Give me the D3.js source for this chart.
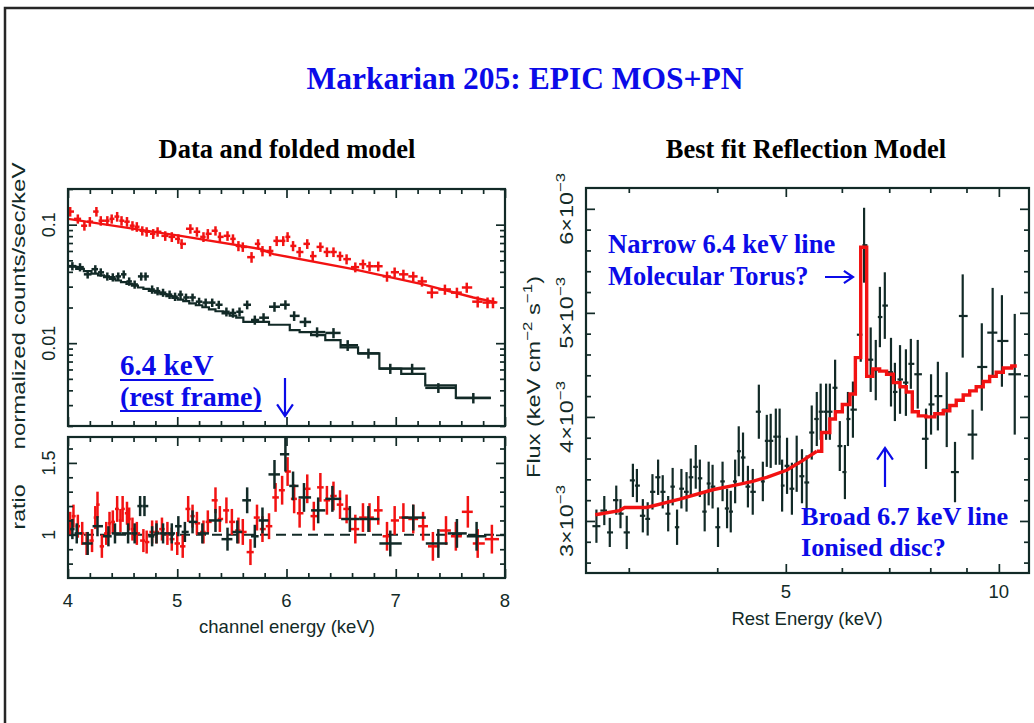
<!DOCTYPE html>
<html>
<head>
<meta charset="utf-8">
<script src="https://cdn.jsdelivr.net/npm/d3@7/dist/d3.min.js"></script>
<style>
  html, body { margin: 0; padding: 0; background: #fff; }
  svg { display: block; }
</style>
</head>
<body>
<svg id="fig" width="1034" height="723"></svg>
<script>
// ---------------------------------------------------------------
// Markarian 205 — XMM-Newton EPIC spectra around the Fe K band
// ---------------------------------------------------------------

// Left panel, upper: MOS counts spectrum (black), with folded model per channel bin
const mosEnergy = [4.04, 4.11, 4.18, 4.25, 4.30, 4.36, 4.41, 4.46, 4.51, 4.56,
                   4.61, 4.67, 4.71, 4.77, 4.82, 4.87, 4.93, 4.98, 5.03, 5.08,
                   5.14, 5.20, 5.26, 5.32, 5.38, 5.45, 5.51, 5.57, 5.64, 5.71,
                   5.79, 5.89, 5.99, 6.07, 6.17, 6.28, 6.43, 6.56, 6.75, 6.95,
                   7.15, 7.39, 7.71];
const mosCounts = [0.0447, 0.0438, 0.0381, 0.0421, 0.0396, 0.0366, 0.0360, 0.0366, 0.0381, 0.0332,
                   0.0313, 0.0366, 0.0366, 0.0284, 0.0275, 0.0267, 0.0257, 0.0247, 0.0257, 0.0243,
                   0.0243, 0.0224, 0.0220, 0.0220, 0.0211, 0.0184, 0.0180, 0.0184, 0.0211, 0.0157,
                   0.0164, 0.0203, 0.0211, 0.0170, 0.0151, 0.0124, 0.0122, 0.0096, 0.0082, 0.0061,
                   0.0061, 0.0042, 0.00345];
const mosCountsErr = [0.0036, 0.0035, 0.0030, 0.0034, 0.0032, 0.0029, 0.0029, 0.0029, 0.0030, 0.0027,
                      0.0025, 0.0029, 0.0029, 0.0023, 0.0022, 0.0021, 0.0021, 0.0020, 0.0021, 0.0019,
                      0.0019, 0.0018, 0.0018, 0.0018, 0.0017, 0.0016, 0.0016, 0.0016, 0.0018, 0.0014,
                      0.0015, 0.0019, 0.0019, 0.0016, 0.0014, 0.0012, 0.0012, 0.0010, 0.0008, 0.0006,
                      0.0006, 0.0004, 0.00035];
const mosModel = [0.0443, 0.0424, 0.0405, 0.0387, 0.0374, 0.0360, 0.0349, 0.0338, 0.0327, 0.0316,
                  0.0306, 0.0295, 0.0287, 0.0276, 0.0267, 0.0259, 0.0249, 0.0241, 0.0233, 0.0226,
                  0.0217, 0.0209, 0.0201, 0.0193, 0.0186, 0.0178, 0.0171, 0.0164, 0.0151, 0.0151,
                  0.0151, 0.0143, 0.0143, 0.0129, 0.0124, 0.0117, 0.0106, 0.0092, 0.0082, 0.0061,
                  0.0055, 0.0044, 0.00345];

// Left panel, upper: PN counts spectrum (red) and its folded model curve
const pnEnergy = [4.02, 4.09, 4.15, 4.20, 4.26, 4.30, 4.36, 4.40, 4.45, 4.49,
                  4.54, 4.59, 4.63, 4.68, 4.72, 4.78, 4.82, 4.89, 4.95, 5.01,
                  5.04, 5.12, 5.18, 5.24, 5.28, 5.35, 5.39, 5.46, 5.51, 5.56,
                  5.60, 5.68, 5.74, 5.78, 5.85, 5.91, 5.97, 6.01, 6.06, 6.12,
                  6.19, 6.24, 6.31, 6.37, 6.43, 6.49, 6.55, 6.63, 6.70, 6.76,
                  6.84, 6.92, 6.99, 7.07, 7.16, 7.24, 7.33, 7.45, 7.56, 7.65,
                  7.75, 7.84, 7.89];
const pnCounts = [0.129, 0.112, 0.098, 0.106, 0.129, 0.108, 0.108, 0.112, 0.117, 0.108,
                  0.106, 0.098, 0.096, 0.0889, 0.0871, 0.0838, 0.0871, 0.0805, 0.0789, 0.0759,
                  0.0689, 0.0924, 0.0871, 0.0789, 0.0838, 0.0889, 0.0789, 0.0805, 0.0759, 0.0662,
                  0.0649, 0.0532, 0.0689, 0.0600, 0.0600, 0.0730, 0.0730, 0.0789, 0.0662, 0.0588,
                  0.0689, 0.0543, 0.0649, 0.0588, 0.0588, 0.0543, 0.0512, 0.0438, 0.0464, 0.0446,
                  0.0446, 0.0366, 0.0397, 0.0381, 0.0366, 0.0332, 0.0267, 0.0284, 0.0267, 0.0295,
                  0.0224, 0.0220, 0.0220];
const pnCountsErr = [0.012, 0.010, 0.009, 0.010, 0.012, 0.010, 0.010, 0.010, 0.011, 0.010,
                     0.010, 0.009, 0.009, 0.008, 0.008, 0.008, 0.008, 0.0075, 0.0075, 0.007,
                     0.0065, 0.0085, 0.008, 0.0075, 0.008, 0.008, 0.0075, 0.0075, 0.007, 0.0065,
                     0.006, 0.0055, 0.0065, 0.006, 0.006, 0.007, 0.007, 0.0075, 0.0065, 0.006,
                     0.0065, 0.0055, 0.006, 0.0055, 0.0055, 0.005, 0.005, 0.0042, 0.0044, 0.0042,
                     0.0042, 0.0036, 0.0038, 0.0036, 0.0035, 0.0032, 0.0028, 0.0028, 0.0027, 0.0029,
                     0.0024, 0.0023, 0.0023];
const pnModelEnergy = [4.00, 4.29, 5.03, 5.76, 5.88, 6.61, 7.25, 7.71, 7.93];
const pnModel       = [0.112, 0.102, 0.0805, 0.0623, 0.0565, 0.0421, 0.0313, 0.0243, 0.0220];

// Left panel, lower: data / model ratios
const pnRatioEnergy = [4.02, 4.05, 4.09, 4.13, 4.17, 4.22, 4.25, 4.27, 4.31, 4.35,
                       4.38, 4.41, 4.45, 4.48, 4.50, 4.54, 4.56, 4.59, 4.63, 4.69,
                       4.72, 4.77, 4.81, 4.86, 4.91, 4.95, 5.00, 5.05, 5.10, 5.14,
                       5.18, 5.24, 5.28, 5.35, 5.39, 5.45, 5.50, 5.56, 5.60, 5.67,
                       5.73, 5.78, 5.84, 5.90, 5.96, 6.01, 6.07, 6.12, 6.19, 6.25,
                       6.31, 6.37, 6.43, 6.49, 6.55, 6.63, 6.70, 6.76, 6.84, 6.92,
                       6.99, 7.07, 7.16, 7.25, 7.34, 7.46, 7.55, 7.66, 7.75, 7.88];
const pnRatio = [1.08, 1.13, 1.06, 1.01, 0.94, 0.96, 1.12, 1.21, 0.92, 1.01,
                 1.08, 1.09, 1.18, 1.10, 1.18, 1.15, 1.11, 1.04, 1.01, 0.96,
                 0.95, 1.02, 1.02, 1.04, 1.01, 0.97, 0.94, 0.92, 1.18, 1.13,
                 1.08, 1.02, 1.09, 1.24, 1.11, 1.17, 1.09, 1.03, 1.02, 0.88,
                 1.12, 1.04, 1.06, 1.26, 1.31, 1.44, 1.25, 1.15, 1.32, 1.13,
                 1.33, 1.24, 1.27, 1.21, 1.18, 1.04, 1.12, 1.12, 1.17, 0.99,
                 1.10, 1.12, 1.11, 1.06, 0.92, 1.03, 0.99, 1.16, 0.94, 0.97];
const pnRatioErr = [0.08, 0.08, 0.08, 0.08, 0.08, 0.08, 0.08, 0.09, 0.08, 0.08,
                    0.08, 0.08, 0.09, 0.08, 0.09, 0.08, 0.08, 0.08, 0.08, 0.08,
                    0.08, 0.08, 0.08, 0.08, 0.08, 0.08, 0.08, 0.08, 0.09, 0.08,
                    0.08, 0.08, 0.08, 0.09, 0.09, 0.09, 0.09, 0.09, 0.09, 0.09,
                    0.09, 0.09, 0.09, 0.10, 0.10, 0.10, 0.10, 0.10, 0.10, 0.10,
                    0.10, 0.10, 0.10, 0.10, 0.10, 0.10, 0.10, 0.10, 0.10, 0.10,
                    0.10, 0.10, 0.10, 0.10, 0.10, 0.10, 0.10, 0.11, 0.10, 0.10];
const mosRatioEnergy = [4.04, 4.08, 4.18, 4.27, 4.37, 4.43, 4.55, 4.61, 4.66, 4.70,
                        4.77, 4.81, 4.87, 4.95, 5.01, 5.07, 5.14, 5.23, 5.35, 5.46,
                        5.55, 5.64, 5.71, 5.78, 5.89, 5.99, 6.06, 6.16, 6.29, 6.42,
                        6.58, 6.75, 6.95, 7.16, 7.39, 7.56, 7.74];
const mosRatio = [1.04, 1.01, 0.94, 1.06, 0.99, 1.01, 1.01, 1.01, 1.20, 1.20,
                  0.99, 1.01, 1.01, 1.01, 1.06, 1.02, 1.09, 1.01, 1.10, 0.97,
                  1.02, 1.24, 0.99, 1.10, 1.42, 1.56, 1.34, 1.26, 1.17, 1.25,
                  1.11, 1.11, 0.94, 1.12, 0.94, 1.01, 0.99];
const mosRatioErr = [0.07, 0.07, 0.08, 0.07, 0.07, 0.07, 0.07, 0.07, 0.07, 0.07,
                     0.07, 0.07, 0.07, 0.07, 0.07, 0.07, 0.08, 0.07, 0.08, 0.08,
                     0.08, 0.09, 0.08, 0.09, 0.10, 0.12, 0.10, 0.10, 0.09, 0.09,
                     0.09, 0.09, 0.09, 0.09, 0.10, 0.10, 0.10];

// Right panel: unfolded rest-frame spectrum and best-fit reflection model
const restEnergy = [2.70, 2.77, 2.82, 2.88, 2.92, 2.98, 3.04, 3.08, 3.14, 3.19,
                    3.24, 3.30, 3.35, 3.41, 3.46, 3.51, 3.56, 3.62, 3.67, 3.73,
                    3.78, 3.84, 3.89, 3.94, 4.01, 4.07, 4.13, 4.18, 4.24, 4.29,
                    4.35, 4.42, 4.49, 4.58, 4.64, 4.70, 4.76, 4.84, 4.90, 4.94,
                    5.02, 5.10, 5.18, 5.27, 5.35, 5.44, 5.53, 5.60, 5.70, 5.77,
                    5.87, 5.96, 6.06, 6.12, 6.22, 6.38, 6.45, 6.59, 6.70, 6.79,
                    6.90, 7.04, 7.13, 7.25, 7.39, 7.51, 7.68, 7.89, 8.02, 8.20,
                    8.44, 8.67, 8.89, 9.18, 9.46, 9.80, 10.10, 10.53];
const flux = [2.95e-3, 3.10e-3, 2.89e-3, 3.20e-3, 3.07e-3, 2.89e-3, 3.39e-3, 3.34e-3, 3.05e-3, 3.02e-3,
              3.28e-3, 3.42e-3, 3.28e-3, 3.07e-3, 3.33e-3, 2.94e-3, 3.31e-3, 3.28e-3, 3.42e-3, 3.52e-3,
              3.41e-3, 3.09e-3, 3.36e-3, 3.33e-3, 2.94e-3, 3.38e-3, 3.12e-3, 3.09e-3, 3.38e-3, 3.67e-3,
              3.61e-3, 3.33e-3, 3.28e-3, 4.05e-3, 3.38e-3, 3.77e-3, 3.77e-3, 3.81e-3, 3.81e-3, 3.34e-3,
              3.53e-3, 3.31e-3, 3.55e-3, 3.43e-3, 3.37e-3, 3.85e-3, 3.98e-3, 4.05e-3, 4.05e-3, 4.05e-3,
              4.28e-3, 3.72e-3, 3.47e-3, 3.98e-3, 4.07e-3, 4.79e-3, 5.65e-3, 4.55e-3, 4.45e-3, 4.96e-3,
              5.07e-3, 4.43e-3, 4.24e-3, 4.36e-3, 4.33e-3, 4.51e-3, 4.41e-3, 3.79e-3, 4.12e-3, 4.20e-3,
              4.07e-3, 3.47e-3, 4.97e-3, 3.83e-3, 4.48e-3, 4.81e-3, 4.73e-3, 4.41e-3];
const fluxErr = [0.16e-3, 0.14e-3, 0.14e-3, 0.14e-3, 0.14e-3, 0.16e-3, 0.16e-3, 0.16e-3, 0.16e-3, 0.16e-3,
                 0.17e-3, 0.17e-3, 0.16e-3, 0.17e-3, 0.18e-3, 0.17e-3, 0.19e-3, 0.19e-3, 0.18e-3, 0.21e-3,
                 0.18e-3, 0.19e-3, 0.21e-3, 0.21e-3, 0.19e-3, 0.19e-3, 0.19e-3, 0.20e-3, 0.21e-3, 0.24e-3,
                 0.24e-3, 0.20e-3, 0.22e-3, 0.26e-3, 0.19e-3, 0.25e-3, 0.26e-3, 0.27e-3, 0.27e-3, 0.25e-3,
                 0.27e-3, 0.25e-3, 0.27e-3, 0.26e-3, 0.26e-3, 0.26e-3, 0.26e-3, 0.27e-3, 0.27e-3, 0.27e-3,
                 0.27e-3, 0.24e-3, 0.26e-3, 0.26e-3, 0.27e-3, 0.26e-3, 0.36e-3, 0.31e-3, 0.29e-3, 0.29e-3,
                 0.32e-3, 0.33e-3, 0.28e-3, 0.33e-3, 0.32e-3, 0.24e-3, 0.33e-3, 0.29e-3, 0.29e-3, 0.33e-3,
                 0.36e-3, 0.29e-3, 0.40e-3, 0.24e-3, 0.42e-3, 0.43e-3, 0.44e-3, 0.58e-3];
const modelEnergy = [2.69, 2.91, 2.96, 3.18, 3.54, 3.94, 4.21, 4.49, 4.70, 5.02,
                     5.28, 5.53, 5.71, 5.83, 5.92, 6.10, 6.22, 6.32, 6.44, 6.57,
                     6.70, 6.87, 7.01, 7.18, 7.32, 7.48, 7.61, 7.78, 7.99, 8.25,
                     8.44, 8.61, 8.80, 9.01, 9.18, 9.40, 9.61, 9.80, 10.03, 10.26,
                     10.60];
const modelFlux = [3.06e-3, 3.10e-3, 3.13e-3, 3.13e-3, 3.21e-3, 3.30e-3, 3.34e-3, 3.38e-3, 3.42e-3, 3.49e-3,
                   3.58e-3, 3.67e-3, 3.85e-3, 3.98e-3, 4.05e-3, 4.12e-3, 4.22e-3, 4.57e-3, 5.63e-3, 4.39e-3,
                   4.46e-3, 4.44e-3, 4.41e-3, 4.33e-3, 4.29e-3, 4.24e-3, 4.05e-3, 4.01e-3, 4.00e-3, 4.03e-3,
                   4.06e-3, 4.11e-3, 4.16e-3, 4.21e-3, 4.25e-3, 4.29e-3, 4.34e-3, 4.39e-3, 4.43e-3, 4.47e-3,
                   4.49e-3];

// Tick values and labels
const channelTicks = [4, 5, 6, 7, 8];
const countTicks = [0.01, 0.1];
const countTickLabels = ["0.01", "0.1"];
const ratioTicks = [1, 1.5];
const ratioTickLabels = ["1", "1.5"];
const restTicks = [5, 10];
const fluxTicks = [3e-3, 4e-3, 5e-3, 6e-3];
const fluxTickMantissa = ["3", "4", "5", "6"];

// ---------------------------------------------------------------
const AX = "#122a27";
const RED = "#f21212";
const BLUE = "#0b0be8";
const SANS = "'Liberation Sans', Arial, Helvetica, sans-serif";
const SERIF = "'Liberation Serif', 'Times New Roman', Times, serif";

const svg = d3.select("#fig");

// slide border
svg.append("path")
  .attr("d", "M5,723 V8 H1034")
  .attr("fill", "none").attr("stroke", "#262626").attr("stroke-width", 2.5);

// headings
svg.append("text").attr("x", 525).attr("y", 89)
  .attr("text-anchor", "middle").attr("font-family", SERIF).attr("font-weight", "bold")
  .attr("font-size", 31.5).attr("fill", BLUE).text("Markarian 205: EPIC MOS+PN");
svg.append("text").attr("x", 287).attr("y", 158)
  .attr("text-anchor", "middle").attr("font-family", SERIF).attr("font-weight", "bold")
  .attr("font-size", 26.5).attr("fill", "#000").text("Data and folded model");
svg.append("text").attr("x", 806).attr("y", 158)
  .attr("text-anchor", "middle").attr("font-family", SERIF).attr("font-weight", "bold")
  .attr("font-size", 26.5).attr("fill", "#000").text("Best fit Reflection Model");

// ---------------------------------------------------------------
// scales
const xChan = d3.scaleLinear().domain([4, 8]).range([68, 505]);
const yCounts = d3.scaleLog().domain([0.002, 0.2]).range([426, 189]);
const yRatio = d3.scaleLinear().domain([0.7, 1.68]).range([578, 437]);
const xRest = d3.scaleLog().domain([2.61, 11.03]).range([586, 1029]);
const yFlux = d3.scaleLinear().domain([2.5e-3, 6.2e-3]).range([573, 188]);

// helpers --------------------------------------------------------
function styleTicks(sel) {
  sel.select(".domain").remove();
  sel.selectAll(".tick line").attr("stroke", AX).attr("stroke-width", 1.7);
}
function tickSet(g, orient, scale, values, len, pos) {
  const mk = { bottom: d3.axisBottom, top: d3.axisTop, left: d3.axisLeft, right: d3.axisRight }[orient];
  const horiz = orient === "bottom" || orient === "top";
  g.append("g")
    .attr("transform", horiz ? `translate(0,${pos})` : `translate(${pos},0)`)
    .call(mk(scale).tickValues(values).tickSize(-len).tickFormat(""))
    .call(styleTicks);
}
function frame(g, x, y) {
  const [x0, x1] = x.range(), [y0, y1] = y.range();
  g.append("rect")
    .attr("x", x0).attr("y", Math.min(y0, y1))
    .attr("width", x1 - x0).attr("height", Math.abs(y0 - y1))
    .attr("fill", "none").attr("stroke", AX).attr("stroke-width", 2.2);
}
function clipFor(id, x, y) {
  const [x0, x1] = x.range(), [y0, y1] = y.range();
  svg.append("clipPath").attr("id", id).append("rect")
    .attr("x", x0).attr("y", Math.min(y0, y1))
    .attr("width", x1 - x0).attr("height", Math.abs(y0 - y1));
}
// channel bin edges sit halfway between neighbouring bin centres
function binEdges(E) {
  const n = E.length;
  return E.map((e, i) => [
    i > 0 ? (E[i - 1] + e) / 2 : e - (E[1] - E[0]) / 2,
    i < n - 1 ? (e + E[i + 1]) / 2 : e + (E[n - 1] - E[n - 2]) / 2
  ]);
}
function crosses(g, x, y, E, V, err, color, sw) {
  const edges = binEdges(E);
  const pts = E.map((e, i) => ({ e, v: V[i], s: err[i], lo: edges[i][0], hi: edges[i][1] }));
  const c = g.append("g").attr("stroke", color).attr("stroke-width", sw)
    .selectAll("g").data(pts).join("g");
  c.append("line")
    .attr("x1", d => x(d.e)).attr("x2", d => x(d.e))
    .attr("y1", d => y(d.v - d.s)).attr("y2", d => y(d.v + d.s));
  c.append("line")
    .attr("x1", d => x(d.lo)).attr("x2", d => x(d.hi))
    .attr("y1", d => y(d.v)).attr("y2", d => y(d.v));
}
// vertical (rotated) label made of plain and superscript parts, optionally stretched to a length
function vLabel(x, y, parts, size, len) {
  const t = svg.append("text")
    .attr("text-anchor", "middle").attr("font-family", SANS)
    .attr("font-size", size).attr("fill", AX);
  const shift = size * 0.42;
  let raised = false;
  parts.forEach(p => {
    const sp = t.append("tspan").text(p.t);
    if (p.sup) {
      sp.attr("font-size", size * 0.72);
      if (!raised) { sp.attr("dy", -shift); raised = true; }
    } else if (raised) { sp.attr("dy", shift); raised = false; }
  });
  const natural = t.node().getComputedTextLength();
  const sx = len ? len / natural : 1;
  t.attr("transform", `translate(${x},${y}) rotate(-90) scale(${sx},1)`);
  return t;
}
function hText(x, y, str, size, anchor) {
  return svg.append("text").attr("x", x).attr("y", y)
    .attr("text-anchor", anchor || "middle").attr("font-family", SANS)
    .attr("font-size", size).attr("fill", AX).text(str);
}

// ---------------------------------------------------------------
// LEFT PANEL — counts spectrum
clipFor("clipCounts", xChan, yCounts);
clipFor("clipRatio", xChan, yRatio);
clipFor("clipFlux", xRest, yFlux);

const gC = svg.append("g");
const chanMinor = d3.range(4.2, 8, 0.2).filter(v => Math.abs(v - Math.round(v)) > 1e-6);
const chanMajor = channelTicks;
const countAll = yCounts.ticks().filter(v => v > 0.0019 && v < 0.21);
const countMinor = countAll.filter(v => !countTicks.some(t => Math.abs(t - v) / t < 1e-6));

const gCd = gC.append("g").attr("clip-path", "url(#clipCounts)");
crosses(gCd, xChan, yCounts, pnEnergy, pnCounts, pnCountsErr, RED, 2.5);
gCd.append("path")
  .datum(pnModelEnergy.map((e, i) => [e, pnModel[i]]))
  .attr("fill", "none").attr("stroke", RED).attr("stroke-width", 2.4)
  .attr("d", d3.line().x(d => xChan(d[0])).y(d => yCounts(d[1])));
crosses(gCd, xChan, yCounts, mosEnergy, mosCounts, mosCountsErr, AX, 2.5);
{
  const edges = binEdges(mosEnergy);
  const stepPts = edges.map((ed, i) => [ed[0], mosModel[i]]);
  stepPts.push([edges[edges.length - 1][1], mosModel[mosModel.length - 1]]);
  gCd.append("path").datum(stepPts)
    .attr("fill", "none").attr("stroke", AX).attr("stroke-width", 2.2)
    .attr("d", d3.line().curve(d3.curveStepAfter).x(d => xChan(d[0])).y(d => yCounts(d[1])));
}
tickSet(gC, "bottom", xChan, chanMinor, 5, yCounts.range()[0]);
tickSet(gC, "bottom", xChan, chanMajor, 9, yCounts.range()[0]);
tickSet(gC, "top", xChan, chanMinor, 5, yCounts.range()[1]);
tickSet(gC, "top", xChan, chanMajor, 9, yCounts.range()[1]);
tickSet(gC, "left", yCounts, countMinor, 5, xChan.range()[0]);
tickSet(gC, "left", yCounts, countTicks, 9, xChan.range()[0]);
tickSet(gC, "right", yCounts, countMinor, 5, xChan.range()[1]);
tickSet(gC, "right", yCounts, countTicks, 9, xChan.range()[1]);
frame(gC, xChan, yCounts);
countTicks.forEach((v, i) => vLabel(55, yCounts(v), [{ t: countTickLabels[i] }], 18));

// LEFT PANEL — ratio
const gR = svg.append("g");
const gRd = gR.append("g").attr("clip-path", "url(#clipRatio)");
gRd.append("path").datum([4, 8])
  .attr("fill", "none").attr("stroke", AX).attr("stroke-width", 2)
  .attr("stroke-dasharray", "10,6")
  .attr("d", d3.line().x(d => xChan(d)).y(() => yRatio(1)));
crosses(gRd, xChan, yRatio, pnRatioEnergy, pnRatio, pnRatioErr, RED, 2.5);
crosses(gRd, xChan, yRatio, mosRatioEnergy, mosRatio, mosRatioErr, AX, 2.5);
const ratioMinor = d3.range(0.8, 1.65, 0.1).filter(v => !ratioTicks.some(t => Math.abs(t - v) < 1e-6));
tickSet(gR, "bottom", xChan, chanMinor, 5, yRatio.range()[0]);
tickSet(gR, "bottom", xChan, chanMajor, 9, yRatio.range()[0]);
tickSet(gR, "top", xChan, chanMinor, 5, yRatio.range()[1]);
tickSet(gR, "top", xChan, chanMajor, 9, yRatio.range()[1]);
tickSet(gR, "left", yRatio, ratioMinor, 5, xChan.range()[0]);
tickSet(gR, "left", yRatio, ratioTicks, 9, xChan.range()[0]);
tickSet(gR, "right", yRatio, ratioMinor, 5, xChan.range()[1]);
tickSet(gR, "right", yRatio, ratioTicks, 9, xChan.range()[1]);
frame(gR, xChan, yRatio);
ratioTicks.forEach((v, i) => vLabel(55, yRatio(v), [{ t: ratioTickLabels[i] }], 18));

channelTicks.forEach(v => hText(xChan(v), 607, String(v), 18.5));
hText(287, 633, "channel energy (keV)", 18.5);
vLabel(25, 306, [{ t: "normalized counts/sec/keV" }], 18, 287);
vLabel(25, 507, [{ t: "ratio" }], 18, 45);

// ---------------------------------------------------------------
// RIGHT PANEL — unfolded spectrum with reflection model
const gF = svg.append("g");
const gFd = gF.append("g").attr("clip-path", "url(#clipFlux)");
crosses(gFd, xRest, yFlux, restEnergy, flux, fluxErr, AX, 2.2);
{
  const pts = modelEnergy.map((e, i) => [e, modelFlux[i]]);
  const smooth = pts.filter(d => d[0] <= 5.53);
  const binned = pts.filter(d => d[0] >= 5.53);
  const lineLin = d3.line().x(d => xRest(d[0])).y(d => yFlux(d[1]));
  const lineStep = d3.line().curve(d3.curveStep).x(d => xRest(d[0])).y(d => yFlux(d[1]));
  [[smooth, lineLin], [binned, lineStep]].forEach(([data, gen]) => {
    gFd.append("path").datum(data)
      .attr("fill", "none").attr("stroke", RED).attr("stroke-width", 3.4)
      .attr("stroke-linejoin", "miter").attr("d", gen);
  });
}
const restMinor = [3, 4, 6, 7, 8, 9];
const fluxMinor = d3.range(2.6e-3, 6.15e-3, 0.2e-3)
  .filter(v => !fluxTicks.some(t => Math.abs(t - v) < 1e-8));
tickSet(gF, "bottom", xRest, restMinor, 5, yFlux.range()[0]);
tickSet(gF, "bottom", xRest, restTicks, 9, yFlux.range()[0]);
tickSet(gF, "top", xRest, restMinor, 5, yFlux.range()[1]);
tickSet(gF, "top", xRest, restTicks, 9, yFlux.range()[1]);
tickSet(gF, "left", yFlux, fluxMinor, 5, xRest.range()[0]);
tickSet(gF, "left", yFlux, fluxTicks, 9, xRest.range()[0]);
tickSet(gF, "right", yFlux, fluxMinor, 5, xRest.range()[1]);
tickSet(gF, "right", yFlux, fluxTicks, 9, xRest.range()[1]);
frame(gF, xRest, yFlux);

restTicks.forEach(v => hText(xRest(v), 598, String(v), 18.5));
hText(807, 625, "Rest Energy (keV)", 18.5);
fluxTicks.forEach((v, i) =>
  vLabel(573, yFlux(v), [{ t: fluxTickMantissa[i] + "\u00d710" }, { t: "\u22123", sup: true }], 18, 72));
vLabel(540, 377, [
  { t: "Flux  (keV cm" }, { t: "\u22122", sup: true },
  { t: " s" }, { t: "\u22121", sup: true }, { t: ")" }
], 18, 202);

// ---------------------------------------------------------------
// annotations
function note(x, y, str, size, underline) {
  const t = svg.append("text").attr("x", x).attr("y", y)
    .attr("font-family", SERIF).attr("font-weight", "bold")
    .attr("font-size", size).attr("fill", BLUE).text(str);
  if (underline) {
    const w = t.node().getComputedTextLength();
    svg.append("line").attr("x1", x).attr("x2", x + w)
      .attr("y1", y + 5).attr("y2", y + 5)
      .attr("stroke", BLUE).attr("stroke-width", 2.2);
  }
  return t;
}
function arrow(x1, y1, x2, y2, head) {
  const a = Math.atan2(y2 - y1, x2 - x1);
  const h = head || 12, spread = 0.6;
  const p = d3.path();
  p.moveTo(x1, y1); p.lineTo(x2, y2);
  p.moveTo(x2 - h * Math.cos(a - spread), y2 - h * Math.sin(a - spread));
  p.lineTo(x2, y2);
  p.lineTo(x2 - h * Math.cos(a + spread), y2 - h * Math.sin(a + spread));
  svg.append("path").attr("d", p.toString())
    .attr("fill", "none").attr("stroke", BLUE).attr("stroke-width", 2.2);
}

note(120, 375, "6.4 keV", 29, true);
note(120, 406, "(rest frame)", 28, true);
arrow(285, 378, 285, 416, 14);

note(608, 253, "Narrow 6.4 keV line", 26.5);
note(608, 285, "Molecular Torus?", 26.5);
arrow(825, 277, 853, 277, 11);

arrow(885, 487, 885, 448, 14);
note(801, 525, "Broad 6.7 keV line", 26.2);
note(801, 556, "Ionised disc?", 26.2);
</script>
</body>
</html>
